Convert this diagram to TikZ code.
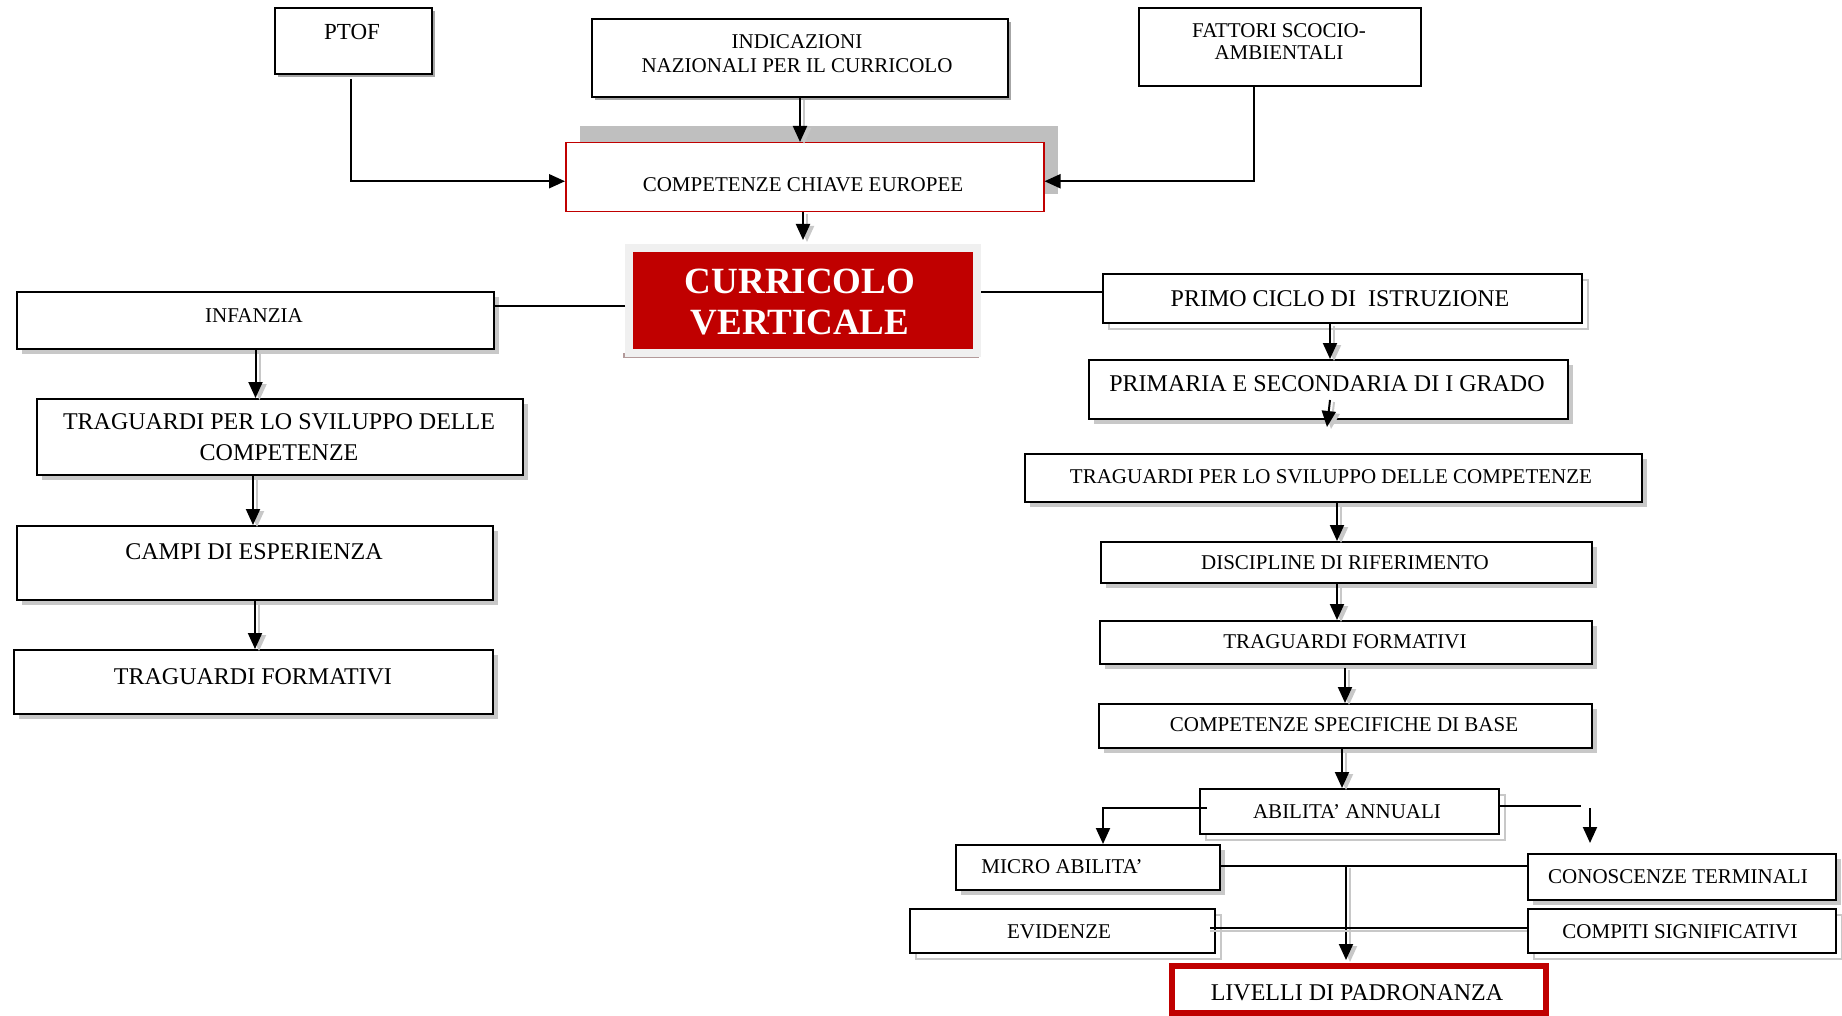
\documentclass[tikz,border=0pt]{standalone}
\usepackage{fontspec}
\setmainfont{Liberation Serif}
\usetikzlibrary{arrows.meta,shadows}
\definecolor{dred}{HTML}{C00000}
\definecolor{shg}{HTML}{C8C8C8}
\definecolor{compsh}{HTML}{BFBFBF}
\definecolor{curfr}{HTML}{F0F0F0}
\definecolor{cursh}{HTML}{B39A9A}
\tikzset{
 box/.style={draw=black,line width=2pt,fill=white,inner sep=0pt,anchor=north west},
 fsh/.style={drop shadow={shadow xshift=5pt,shadow yshift=-5pt,fill=shg,opacity=1}},
 ssh/.style={drop shadow={shadow xshift=3pt,shadow yshift=-3pt,fill=gray!70,opacity=1}},
 osh/.style={drop shadow={shadow xshift=6pt,shadow yshift=-6pt,fill=none,draw=shg,line width=1.5pt,opacity=1}},
 txt/.style={inner sep=0pt,align=center},
 fa/.style={font=\fontsize{21}{24}\selectfont},
 fb/.style={font=\fontsize{24}{31}\selectfont},
 arr/.style={line width=2pt,-{Triangle[width=14pt,length=16pt]}},
 lsh/.style={preaction={draw=shg,line width=2pt,transform canvas={xshift=4pt,yshift=-2pt}}},
 ln/.style={line width=2pt},
}
\newcommand\bx[6][]{\node[box,minimum width={(#5-#3)*1pt},minimum height={(#6-#4)*1pt},#1] (#2) at (#3,#4) {};}
\begin{document}
\begin{tikzpicture}[x=1pt,y=-1pt]
\useasboundingbox (0,0) rectangle (1842,1016);
\fill[white] (0,0) rectangle (1842,1016);

% top row
\bx[ssh]{ptof}{274}{7}{431}{73}
\node[txt,font=\fontsize{23}{26}\selectfont] (ptoft) at (352,32) {PTOF};
\bx[ssh]{ind}{591}{18}{1007}{96}
\node[txt,fa] (indt) at (797,54) {INDICAZIONI\\NAZIONALI PER IL CURRICOLO};
\bx{fatt}{1138}{7}{1420}{85}
\node[txt,font=\fontsize{21}{22}\selectfont] (fattt) at (1279,42) {FATTORI SCOCIO-\\AMBIENTALI};

% competenze chiave
\fill[compsh] (580,126) rectangle (1058,194);
\bx[draw=dred,line width=1.5pt]{comp}{565}{142}{1043}{211}
\node[txt,fa] (compt) at (803,185) {COMPETENZE CHIAVE EUROPEE};

% curricolo verticale
\fill[cursh] (623,353) rectangle (979,358);
\node[draw=curfr,line width=8pt,fill=dred,minimum width=348pt,minimum height=105pt,inner sep=0pt,anchor=north west] (curr) at (625,244) {};
\node[txt,text=white,font=\fontsize{37}{41}\selectfont\bfseries] (currt) at (800,302.5) {CURRICOLO\\VERTICALE};

% left column
\bx[fsh]{inf}{16}{291}{493}{348}
\node[txt,fa] (inft) at (254,316) {INFANZIA};
\bx[fsh]{trag1}{36}{398}{522}{474}
\node[txt,fb] (trag1t) at (279,437.5) {TRAGUARDI PER LO SVILUPPO DELLE\\COMPETENZE};
\bx[fsh]{campi}{16}{525}{492}{599}
\node[txt,fb] (campit) at (254,552) {CAMPI DI ESPERIENZA};
\bx[fsh]{tform1}{13}{649}{492}{713}
\node[txt,fb] (tform1t) at (253,677) {TRAGUARDI FORMATIVI};

% right column
\bx[osh]{primo}{1102}{273}{1581}{322}
\node[txt,fb] (primot) at (1340,299) {PRIMO CICLO DI~~ISTRUZIONE};
\bx[fsh]{prim}{1088}{359}{1567}{418}
\node[txt,fb] (primt) at (1327,384) {PRIMARIA E SECONDARIA DI I GRADO};
\bx[fsh]{trag2}{1024}{453}{1641}{501}
\node[txt,fa] (trag2t) at (1331,477) {TRAGUARDI PER LO SVILUPPO DELLE COMPETENZE};
\bx[fsh]{disc}{1100}{541}{1591}{582}
\node[txt,fa] (disct) at (1345,563) {DISCIPLINE DI RIFERIMENTO};
\bx[fsh]{tform2}{1099}{620}{1591}{663}
\node[txt,fa] (tform2t) at (1345,642) {TRAGUARDI FORMATIVI};
\bx[fsh]{csb}{1098}{703}{1591}{747}
\node[txt,fa] (csbt) at (1344,725) {COMPETENZE SPECIFICHE DI BASE};
\bx[osh]{abil}{1199}{788}{1498}{833}
\node[txt,fa] (abilt) at (1347,812) {ABILITA’ ANNUALI};
\bx[fsh]{micro}{955}{844}{1219}{889}
\node[txt,fa] (microt) at (1062,867) {MICRO ABILITA’};
\bx[fsh]{cono}{1527}{853}{1835}{899}
\node[txt,fa] (conot) at (1678,877) {CONOSCENZE TERMINALI};
\bx[osh]{evid}{909}{908}{1214}{952}
\node[txt,fa] (evidt) at (1059,932) {EVIDENZE};
\bx[osh]{compiti}{1527}{908}{1835}{952}
\node[txt,fa] (compitit) at (1680,932) {COMPITI SIGNIFICATIVI};
\bx[draw=dred,line width=6pt]{liv}{1169}{963}{1543}{1010}
\node[txt,fb] (livt) at (1357,993) {LIVELLI DI PADRONANZA};

% connectors top
\draw[arr] ([xshift=-3pt,yshift=-4pt]ptof.south) |- ([yshift=-4pt]comp.west);
\draw[arr,lsh] (ind.south) -- (ind.south |- comp.north);
\draw[arr] ([xshift=-26pt]fatt.south) |- ([yshift=-4pt]comp.east);
\draw[arr,lsh] (curr.north |- comp.south) -- ([yshift=4pt]curr.north);
\draw[ln] ([yshift=-6pt]curr.west) -- ([yshift=-6pt]curr.west -| inf.east);
\draw[ln] ([yshift=6pt]primo.west) -- ([yshift=6pt]primo.west -| curr.east);

% connectors left
\draw[arr,lsh] (inf.south) -- (inf.south |- trag1.north);
\draw[arr,lsh] ([xshift=-27pt]trag1.south) -- ([xshift=-27pt]trag1.south |- campi.north);
\draw[arr,lsh] (campi.south) -- (campi.south |- tform1.north);

% connectors right
\draw[arr,lsh] ([xshift=-12.5pt]primo.south) -- ([xshift=-12.5pt]primo.south |- prim.north);
\coordinate (a1) at (1327,427);
\draw[arr,lsh] ([xshift=1.5pt,yshift=20pt]prim.south) -- (a1);
\draw[arr,lsh] ([xshift=3.5pt]trag2.south) -- ([xshift=3.5pt]trag2.south |- disc.north);
\draw[arr,lsh] ([xshift=-9.5pt]disc.south) -- ([xshift=-9.5pt]disc.south |- tform2.north);
\draw[arr,lsh] ([xshift=-1pt,yshift=-3pt]tform2.south) -- ([xshift=-1pt]tform2.south |- csb.north);
\draw[arr,lsh] ([xshift=-3.5pt]csb.south) -- ([xshift=-3.5pt]csb.south |- abil.north);
\coordinate (mL) at (1103,808);
\draw[arr] ([xshift=8pt]abil.west |- mL) -- (mL) -- (mL |- micro.north);
\coordinate (cR1) at (1581,806);
\coordinate (cR2) at (1590,808);
\coordinate (cR3) at (1590,843);
\draw[ln] (abil.east |- cR1) -- (cR1);
\draw[arr] (cR2) -- (cR3);
\coordinate (j) at (1346,866);
\draw[ln] (micro.east |- j) -- (cono.west |- j);
\draw[arr,lsh] (j) -- ([yshift=3pt]j |- liv.north);
\coordinate (e1) at (1210,928);
\draw[shg,line width=1.5pt] ([yshift=-3pt]e1) -- ([yshift=-3pt]compiti.west |- e1);
\draw[ln] (e1) -- (compiti.west |- e1);
\end{tikzpicture}
\end{document}
